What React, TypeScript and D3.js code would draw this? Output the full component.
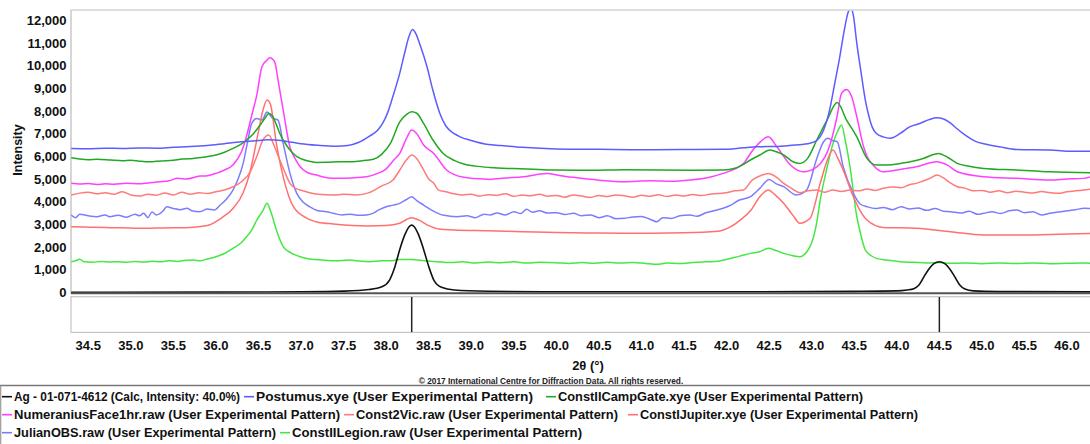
import React, { useRef, useEffect } from 'react';
import * as d3 from 'd3';

// 2θ (deg), intensity pairs
const agCalc = [
  [34.3, 10], [36.0, 15], [37.0, 30], [37.5, 60], [37.8, 130], [37.95, 250], [38.04, 550], [38.1, 1100],
  [38.16, 1900], [38.22, 2550], [38.27, 2900], [38.3, 2970], [38.33, 2900], [38.38, 2550], [38.44, 1900],
  [38.5, 1150], [38.56, 550], [38.65, 230], [38.8, 110], [39.2, 55], [40.0, 30], [42.0, 30], [43.5, 50],
  [44.0, 70], [44.12, 110], [44.2, 170], [44.26, 330], [44.32, 700], [44.38, 1050], [44.44, 1280], [44.5, 1357],
  [44.56, 1280], [44.62, 1050], [44.68, 700], [44.74, 330], [44.8, 150], [44.9, 70], [45.2, 40], [46.3, 25],
];

const postumus = [
  [34.3, 6350], [34.5, 6340], [34.7, 6360], [34.9, 6350], [35.1, 6370], [35.3, 6360], [35.5, 6400], [35.7, 6430],
  [35.9, 6480], [36.1, 6560], [36.3, 6640], [36.5, 6700], [36.6, 6730], [36.7, 6720], [36.9, 6620], [37.0, 6560],
  [37.2, 6490], [37.4, 6450], [37.55, 6480], [37.68, 6620], [37.8, 6880], [37.9, 7150], [37.96, 7460], [38.02, 7950],
  [38.08, 8650], [38.16, 9670], [38.22, 10600], [38.27, 11300], [38.31, 11590], [38.35, 11400], [38.4, 10900],
  [38.48, 9950], [38.55, 8900], [38.63, 7900], [38.7, 7350], [38.8, 7000], [38.87, 6860], [39.0, 6700],
  [39.2, 6520], [39.34, 6480], [39.6, 6400], [40.0, 6330], [40.5, 6310], [41.0, 6290], [41.5, 6300], [41.96, 6310],
  [42.2, 6380], [42.35, 6420], [42.6, 6440], [42.8, 6500], [42.98, 6580], [43.06, 6700], [43.14, 7160],
  [43.21, 8040], [43.27, 9200], [43.33, 10390], [43.38, 11500], [43.43, 12370], [43.46, 12550], [43.49, 12200],
  [43.53, 10980], [43.58, 9700], [43.63, 8480], [43.67, 7800], [43.71, 7300], [43.76, 7010], [43.84, 6860],
  [43.92, 6800], [44.04, 7010], [44.15, 7300], [44.27, 7450], [44.38, 7620], [44.47, 7700], [44.55, 7650],
  [44.62, 7500], [44.7, 7240], [44.8, 6950], [44.94, 6640], [45.02, 6560], [45.21, 6420], [45.41, 6300],
  [45.8, 6280], [46.0, 6230], [46.3, 6220],
];

const campGate = [
  [34.3, 5940], [34.4, 5880], [34.5, 5850], [34.6, 5870], [34.76, 5840], [34.9, 5810], [35.0, 5830], [35.1, 5790],
  [35.22, 5760], [35.35, 5800], [35.5, 5830], [35.6, 5880], [35.73, 5910], [35.85, 5960], [36.0, 6060],
  [36.1, 6180], [36.2, 6350], [36.3, 6550], [36.36, 6720], [36.44, 7000], [36.52, 7380], [36.58, 7700],
  [36.62, 7890], [36.66, 7800], [36.71, 7400], [36.75, 7010], [36.81, 6600], [36.87, 6280], [36.93, 6050],
  [36.99, 5910], [37.08, 5800], [37.18, 5735], [37.3, 5740], [37.45, 5760], [37.57, 5760], [37.7, 5800],
  [37.85, 5870], [37.95, 6100], [38.05, 6570], [38.16, 7520], [38.24, 7850], [38.3, 7965], [38.36, 7900],
  [38.44, 7450], [38.55, 6720], [38.67, 6130], [38.8, 5820], [38.91, 5660], [39.05, 5570], [39.22, 5510],
  [39.5, 5460], [39.8, 5420], [40.0, 5400], [40.4, 5390], [40.8, 5410], [41.18, 5400], [41.6, 5390],
  [41.96, 5400], [42.1, 5480], [42.16, 5570], [42.28, 5840], [42.39, 6060], [42.51, 6280], [42.6, 6180],
  [42.67, 6060], [42.78, 5760], [42.86, 5690], [42.95, 5900], [43.06, 6720], [43.18, 7600], [43.3, 8370],
  [43.41, 7600], [43.53, 6860], [43.65, 5910], [43.76, 5620], [43.9, 5620], [44.04, 5690], [44.2, 5800],
  [44.31, 5910], [44.49, 6130], [44.6, 5950], [44.71, 5690], [44.85, 5560], [45.02, 5470], [45.41, 5400],
  [45.8, 5320], [46.3, 5280],
];

const numeranius = [
  [34.3, 4810], [34.4, 4780], [34.5, 4800], [34.6, 4760], [34.7, 4790], [34.8, 4770], [34.95, 4810], [35.1, 4790],
  [35.2, 4830], [35.34, 4880], [35.45, 4930], [35.55, 5030], [35.65, 5000], [35.81, 5130], [35.9, 5150],
  [36.0, 5250], [36.1, 5400], [36.2, 5620], [36.3, 6200], [36.36, 6900], [36.42, 7800], [36.48, 8700],
  [36.54, 9950], [36.6, 10240], [36.63, 10350], [36.69, 10170], [36.73, 9360], [36.79, 8040], [36.87, 6400],
  [36.93, 5900], [36.99, 5540], [37.07, 5300], [37.18, 5175], [37.38, 5030], [37.6, 5050], [37.77, 5100],
  [37.9, 5250], [38.0, 5450], [38.08, 5800], [38.16, 6130], [38.24, 6800], [38.3, 7160], [38.36, 7000],
  [38.44, 6500], [38.56, 6130], [38.71, 5400], [38.91, 5075], [39.05, 5020], [39.22, 4985], [39.4, 5050],
  [39.61, 5100], [39.75, 5180], [39.89, 5250], [40.05, 5150], [40.2, 5075], [40.5, 4950], [40.79, 4880],
  [41.1, 4920], [41.35, 4900], [41.57, 4955], [41.8, 5080], [41.96, 5250], [42.1, 5450], [42.2, 5690],
  [42.31, 6280], [42.4, 6650], [42.49, 6860], [42.59, 6425], [42.75, 5620], [42.9, 5320], [43.06, 5540],
  [43.22, 6570], [43.3, 7800], [43.35, 8775], [43.41, 8950], [43.47, 8625], [43.53, 7745], [43.61, 6420],
  [43.65, 6000], [43.72, 5620], [43.84, 5320], [44.0, 5400], [44.23, 5540], [44.47, 5760], [44.6, 5600],
  [44.71, 5320], [45.02, 5100], [45.41, 5030], [45.8, 4960], [46.0, 5000], [46.19, 5030], [46.3, 5120],
];

const const2Vic = [
  [34.3, 4295], [34.4, 4380], [34.5, 4420], [34.6, 4350], [34.7, 4400], [34.8, 4330], [34.9, 4440], [35.0, 4300],
  [35.1, 4250], [35.2, 4330], [35.3, 4290], [35.4, 4380], [35.5, 4300], [35.6, 4420], [35.7, 4330], [35.8, 4400],
  [35.9, 4360], [36.0, 4440], [36.1, 4520], [36.2, 4660], [36.3, 4880], [36.4, 5300], [36.48, 6000],
  [36.55, 6700], [36.62, 6940], [36.68, 6500], [36.75, 5840], [36.81, 5300], [36.87, 4810], [36.93, 4600],
  [36.99, 4515], [37.1, 4400], [37.2, 4330], [37.38, 4295], [37.5, 4330], [37.65, 4300], [37.8, 4400],
  [37.95, 4700], [38.08, 4955], [38.16, 5400], [38.24, 5850], [38.3, 6057], [38.36, 5900], [38.44, 5400],
  [38.5, 5000], [38.56, 4810], [38.62, 4500], [38.7, 4440], [38.8, 4350], [38.9, 4300], [39.0, 4330],
  [39.1, 4250], [39.2, 4310], [39.3, 4280], [39.4, 4350], [39.5, 4240], [39.6, 4300], [39.7, 4260], [39.8, 4330],
  [39.9, 4240], [40.0, 4280], [40.1, 4200], [40.2, 4300], [40.3, 4250], [40.4, 4190], [40.5, 4280], [40.6, 4230],
  [40.7, 4300], [40.8, 4260], [40.9, 4200], [41.0, 4290], [41.1, 4240], [41.2, 4310], [41.3, 4230], [41.4, 4300],
  [41.5, 4250], [41.6, 4320], [41.7, 4270], [41.8, 4330], [41.9, 4360], [42.0, 4400], [42.1, 4480],
  [42.2, 4520], [42.3, 4950], [42.4, 5150], [42.49, 5250], [42.58, 5100], [42.67, 4810], [42.76, 4600],
  [42.86, 4400], [42.96, 4480], [43.06, 4515], [43.15, 4420], [43.25, 4520], [43.35, 4450], [43.45, 4515],
  [43.55, 4480], [43.65, 4560], [43.75, 4500], [43.84, 4590], [43.95, 4650], [44.05, 4620], [44.15, 4750],
  [44.23, 4810], [44.3, 4900], [44.4, 5050], [44.47, 5177], [44.55, 5050], [44.62, 4850], [44.71, 4663],
  [44.8, 4600], [44.9, 4480], [45.0, 4500], [45.1, 4420], [45.2, 4480], [45.3, 4400], [45.4, 4460], [45.5, 4420],
  [45.6, 4380], [45.7, 4450], [45.8, 4400], [45.9, 4370], [46.0, 4440], [46.1, 4480], [46.2, 4520], [46.3, 4560],
];

const constIJupiter = [
  [34.3, 2900], [34.5, 2880], [34.7, 2860], [34.9, 2850], [35.1, 2830], [35.3, 2840], [35.5, 2850], [35.7, 2870],
  [35.9, 2950], [36.06, 3270], [36.2, 3700], [36.32, 4400], [36.4, 5300], [36.44, 5980], [36.5, 7100],
  [36.55, 8000], [36.6, 8480], [36.64, 8300], [36.71, 6570], [36.76, 5600], [36.81, 4810], [36.91, 3780],
  [37.07, 3270], [37.2, 3100], [37.38, 3020], [37.6, 2950], [37.77, 2930], [38.0, 2950], [38.16, 3050],
  [38.24, 3220], [38.3, 3300], [38.38, 3200], [38.5, 2950], [38.62, 2800], [38.8, 2760], [39.2, 2720],
  [39.6, 2680], [40.0, 2640], [40.5, 2620], [41.0, 2615], [41.5, 2630], [41.9, 2700], [42.05, 2900],
  [42.16, 3190], [42.28, 3600], [42.39, 4220], [42.49, 4515], [42.57, 4300], [42.67, 3930], [42.78, 3400],
  [42.86, 3050], [42.98, 3270], [43.1, 4810], [43.18, 5800], [43.25, 6278], [43.31, 5900], [43.37, 5397],
  [43.49, 4222], [43.57, 3600], [43.65, 3194], [43.84, 2870], [44.23, 2827], [44.63, 2680], [45.02, 2533],
  [45.41, 2533], [45.8, 2560], [46.3, 2607],
];

const julianOBS = [
  [34.3, 3415], [34.35, 3300], [34.4, 3450], [34.5, 3380], [34.6, 3340], [34.7, 3420], [34.75, 3340],
  [34.85, 3400], [34.95, 3320], [35.05, 3450], [35.1, 3380], [35.15, 3490], [35.2, 3300], [35.25, 3550],
  [35.3, 3420], [35.38, 3600], [35.42, 3780], [35.5, 3700], [35.58, 3650], [35.66, 3710], [35.72, 3600],
  [35.81, 3560], [35.9, 3680], [35.98, 3640], [36.05, 3855], [36.12, 4100], [36.2, 4515], [36.26, 5000],
  [36.32, 5690], [36.37, 6600], [36.42, 7450], [36.48, 7670], [36.54, 7600], [36.6, 7950], [36.66, 7700],
  [36.73, 7600], [36.79, 6570], [36.87, 5250], [36.95, 4370], [37.02, 4000], [37.1, 3780], [37.2, 3600],
  [37.3, 3560], [37.38, 3490], [37.48, 3420], [37.58, 3450], [37.68, 3400], [37.77, 3415], [37.85, 3500],
  [37.92, 3650], [38.0, 3780], [38.08, 3850], [38.16, 3930], [38.24, 4100], [38.3, 4220], [38.36, 4050],
  [38.44, 3855], [38.55, 3600], [38.68, 3400], [38.83, 3340], [38.95, 3380], [39.05, 3300], [39.15, 3450],
  [39.22, 3415], [39.3, 3500], [39.4, 3420], [39.5, 3560], [39.58, 3480], [39.65, 3665], [39.72, 3540],
  [39.8, 3600], [39.9, 3500], [40.0, 3520], [40.1, 3440], [40.2, 3490], [40.3, 3380], [40.4, 3420],
  [40.5, 3300], [40.6, 3380], [40.7, 3250], [40.8, 3270], [40.9, 3330], [41.0, 3350], [41.1, 3230],
  [41.18, 3120], [41.25, 3300], [41.35, 3260], [41.45, 3380], [41.57, 3415], [41.65, 3360], [41.75, 3500],
  [41.85, 3600], [41.96, 3710], [42.05, 3850], [42.15, 4075], [42.28, 4222], [42.39, 4590], [42.5, 4985],
  [42.58, 4800], [42.67, 4663], [42.82, 4296], [42.94, 4515], [43.06, 5910], [43.14, 6645], [43.19, 6800],
  [43.24, 6700], [43.3, 6645], [43.37, 5544], [43.49, 4370], [43.57, 3900], [43.65, 3782], [43.75, 3700],
  [43.84, 3750], [43.95, 3650], [44.05, 3780], [44.15, 3680], [44.25, 3720], [44.35, 3620], [44.45, 3700],
  [44.55, 3580], [44.63, 3561], [44.75, 3500], [44.85, 3580], [44.95, 3450], [45.02, 3488], [45.12, 3560],
  [45.22, 3480], [45.32, 3600], [45.41, 3635], [45.5, 3520], [45.6, 3560], [45.7, 3420], [45.8, 3488],
  [45.9, 3550], [46.0, 3600], [46.1, 3650], [46.2, 3708], [46.3, 3700],
];

const constIILegion = [
  [34.3, 1357], [34.35, 1400], [34.4, 1470], [34.45, 1350], [34.55, 1330], [34.65, 1370], [34.75, 1340],
  [34.85, 1360], [34.95, 1330], [35.05, 1370], [35.15, 1340], [35.25, 1380], [35.35, 1350], [35.45, 1400],
  [35.55, 1370], [35.65, 1420], [35.73, 1430], [35.82, 1400], [35.9, 1480], [36.0, 1577], [36.1, 1720],
  [36.2, 1947], [36.3, 2200], [36.36, 2460], [36.42, 2750], [36.48, 3190], [36.55, 3600], [36.6, 3930],
  [36.65, 3500], [36.71, 2750], [36.79, 2020], [36.88, 1750], [36.99, 1577], [37.1, 1480], [37.25, 1430],
  [37.4, 1400], [37.57, 1430], [37.7, 1380], [37.8, 1357], [37.95, 1400], [38.05, 1400], [38.15, 1450],
  [38.3, 1450], [38.45, 1400], [38.6, 1360], [38.75, 1320], [38.9, 1350], [39.05, 1300], [39.2, 1340],
  [39.35, 1310], [39.5, 1350], [39.65, 1300], [39.8, 1330], [40.0, 1315], [40.15, 1280], [40.3, 1320],
  [40.45, 1290], [40.6, 1330], [40.75, 1300], [40.9, 1320], [41.05, 1280], [41.18, 1240], [41.3, 1300],
  [41.45, 1280], [41.6, 1320], [41.75, 1350], [41.9, 1380], [41.96, 1430], [42.1, 1550], [42.2, 1650],
  [42.28, 1725], [42.39, 1800], [42.49, 1945], [42.58, 1850], [42.67, 1725], [42.78, 1620], [42.86, 1578],
  [42.98, 2020], [43.05, 2900], [43.1, 4075], [43.18, 5500], [43.25, 6570], [43.31, 7150], [43.35, 7380],
  [43.4, 6600], [43.45, 5544], [43.53, 3341], [43.58, 2500], [43.63, 1872], [43.7, 1620], [43.76, 1505],
  [43.9, 1420], [44.04, 1358], [44.2, 1330], [44.35, 1300], [44.5, 1320], [44.63, 1285], [44.8, 1300],
  [45.0, 1270], [45.2, 1300], [45.4, 1280], [45.6, 1300], [45.8, 1270], [46.0, 1290], [46.2, 1300], [46.3, 1285],
];

const seriesNames = [
  'Ag - 01-071-4612 (Calc, Intensity: 40.0%)',
  'Postumus.xye (User Experimental Pattern)',
  'ConstIICampGate.xye (User Experimental Pattern)',
  'NumeraniusFace1hr.raw (User Experimental Pattern)',
  'Const2Vic.raw (User Experimental Pattern)',
  'ConstIJupiter.xye (User Experimental Pattern)',
  'JulianOBS.raw (User Experimental Pattern)',
  'ConstIILegion.raw (User Experimental Pattern)',
];
const seriesColors = ['#111111', '#5c5cff', '#22a822', '#ff40ff', '#ff7a7a', '#ff7070', '#7c7cff', '#44e844'];
const seriesData = [agCalc, postumus, campGate, numeranius, const2Vic, constIJupiter, julianOBS, constIILegion];
const drawOrder = [7, 6, 5, 4, 3, 2, 1, 0];
const legendRows = [[0, 1, 2], [3, 4, 5], [6, 7]];

const stickPositions = [38.3, 44.5];
const xTickLabels = ['34.5', '35.0', '35.5', '36.0', '36.5', '37.0', '37.5', '38.0', '38.5', '39.0', '39.5', '40.0',
  '40.5', '41.0', '41.5', '42.0', '42.5', '43.0', '43.5', '44.0', '44.5', '45.0', '45.5', '46.0'];
const yTickValues = [0, 1000, 2000, 3000, 4000, 5000, 6000, 7000, 8000, 9000, 10000, 11000, 12000];

const FONT = '"Liberation Sans", Arial, sans-serif';
// legend layout (px): swatch start per entry and label width, as in the original export
const legendSwatchX = [2, 244, 546, 2, 344, 628, 2, 280];
const legendTextW = [226, 277, 305, 326, 262, 278, 262, 290];

const App = () => {
  const svgRef = useRef(null);

  useEffect(() => {
    const svg = d3.select(svgRef.current);
    svg.selectAll('*').remove();

    const left = 71, right = 1090, top = 10.7, bottom = 292.5;
    const x = d3.scaleLinear().domain([34.297, 46.27]).range([left, right]);
    const y = d3.scaleLinear().domain([0, 12420]).range([bottom, top]);

    svg.append('defs').append('clipPath').attr('id', 'plotClip')
      .append('rect').attr('x', left).attr('y', top).attr('width', right - left).attr('height', bottom - top + 1);

    // frame
    svg.append('line').attr('x1', left).attr('x2', right).attr('y1', 10).attr('y2', 10)
      .attr('stroke', '#dedede').attr('stroke-width', 2);
    svg.append('line').attr('x1', left).attr('x2', left).attr('y1', 10).attr('y2', 294)
      .attr('stroke', '#c8c8c8').attr('stroke-width', 1.5);

    // y axis labels
    svg.append('g').selectAll('text').data(yTickValues).enter().append('text')
      .attr('x', 66.5).attr('y', d => y(d)).attr('dy', '0.36em')
      .attr('text-anchor', 'end')
      .style('font-family', FONT).style('font-weight', 'bold').style('font-size', '13px').style('fill', '#111')
      .text(d => d3.format(',')(d));

    svg.append('text')
      .attr('transform', 'translate(22,150) rotate(-90)')
      .attr('text-anchor', 'middle')
      .style('font-family', FONT).style('font-weight', 'bold').style('font-size', '12.5px').style('fill', '#111')
      .text('Intensity');

    // patterns
    const line = d3.line().x(d => x(d[0])).y(d => y(d[1])).curve(d3.curveMonotoneX);
    const g = svg.append('g').attr('clip-path', 'url(#plotClip)');
    drawOrder.forEach(i => {
      g.append('path').datum(seriesData[i])
        .attr('d', line)
        .attr('fill', 'none')
        .attr('stroke', seriesColors[i])
        .attr('stroke-width', i === 0 ? 1.6 : 1.5)
        .attr('stroke-linejoin', 'round');
    });

    // x baseline
    svg.append('line').attr('x1', left).attr('x2', right).attr('y1', 293.3).attr('y2', 293.3)
      .attr('stroke', '#555').attr('stroke-width', 2);

    // stick panel
    svg.append('rect').attr('x', left).attr('y', 296.7).attr('width', right - left + 2).attr('height', 35.7)
      .attr('fill', 'white').attr('stroke', '#c4c4c4').attr('stroke-width', 1.2);
    svg.append('g').selectAll('line').data(stickPositions).enter().append('line')
      .attr('x1', d => x(d)).attr('x2', d => x(d)).attr('y1', 297).attr('y2', 332)
      .attr('stroke', '#222').attr('stroke-width', 1.5);

    // x tick labels
    svg.append('g').selectAll('text').data(xTickLabels).enter().append('text')
      .attr('x', d => x(+d)).attr('y', 349.5)
      .attr('text-anchor', 'middle')
      .style('font-family', FONT).style('font-weight', 'bold').style('font-size', '13px').style('fill', '#111')
      .text(d => d);

    svg.append('text').attr('x', 588).attr('y', 369.5).attr('text-anchor', 'middle')
      .style('font-family', FONT).style('font-weight', 'bold').style('font-size', '13px').style('fill', '#111')
      .text('2θ (°)');

    svg.append('text').attr('x', 551).attr('y', 384).attr('text-anchor', 'middle')
      .style('font-family', FONT).style('font-weight', 'bold').style('font-size', '8.3px').style('fill', '#222')
      .text('© 2017 International Centre for Diffraction Data. All rights reserved.');

    // legend box
    svg.append('line').attr('x1', 0).attr('x2', 1090).attr('y1', 385.5).attr('y2', 385.5)
      .attr('stroke', '#777').attr('stroke-width', 1.5);
    svg.append('line').attr('x1', 0.7).attr('x2', 0.7).attr('y1', 385.5).attr('y2', 444)
      .attr('stroke', '#999').attr('stroke-width', 1.2);

    legendRows.forEach((row, r) => {
      const cy = 396.7 + r * 18;
      row.forEach(i => {
        const sx = legendSwatchX[i];
        svg.append('line').attr('x1', sx).attr('x2', sx + 10).attr('y1', cy).attr('y2', cy)
          .attr('stroke', seriesColors[i]).attr('stroke-width', 1.6);
        svg.append('text').attr('x', sx + 12).attr('y', cy).attr('dy', '0.36em')
          .attr('textLength', legendTextW[i]).attr('lengthAdjust', 'spacingAndGlyphs')
          .style('font-family', FONT).style('font-weight', 'bold').style('font-size', '12.5px').style('fill', '#111')
          .text(seriesNames[i]);
      });
    });
  }, []);

  return (
    <div>
      <style>{'body{margin:0}'}</style>
      <svg ref={svgRef} width={1090} height={444} style={{ display: 'block', background: 'white' }}></svg>
    </div>
  );
};

export default App;
